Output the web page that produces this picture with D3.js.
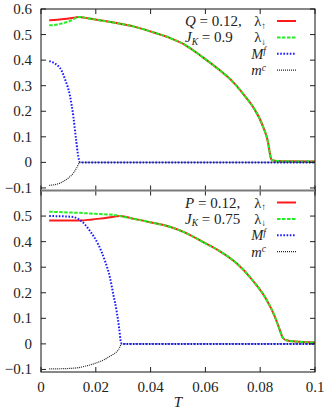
<!DOCTYPE html>
<html>
<head>
<meta charset="utf-8">
<script src="https://cdn.jsdelivr.net/npm/d3@7"></script>
<style>
  body { margin: 0; background: #fff; }
  text { font-family: "Liberation Serif", "DejaVu Serif", serif; fill: #222; }
</style>
</head>
<body>
<div id="chart"></div>
<script>
// ticks
const xTicks = [0, 0.02, 0.04, 0.06, 0.08, 0.1];
const xTickLabels = ["0", "0.02", "0.04", "0.06", "0.08", "0.1"];
const yTicksTop = [-0.1, 0, 0.1, 0.2, 0.3, 0.4, 0.5, 0.6];
const yTicksBottom = [-0.1, 0, 0.1, 0.2, 0.3, 0.4, 0.5];

// upper panel: Q = 0.12, J_K = 0.9
const qUpT = [0.003, 0.006, 0.0094, 0.012, 0.0136];
const qUp = [0.556, 0.558, 0.562, 0.566, 0.569];
const qDownT = [0.003, 0.006, 0.008, 0.0106, 0.012, 0.0136];
const qDown = [0.536, 0.539, 0.545, 0.553, 0.561, 0.569];
// both lambdas coincide above the first transition
const qHighT = [0.0175, 0.0215, 0.0275, 0.0337, 0.040, 0.047, 0.0525, 0.0592, 0.0653, 0.069, 0.0713, 0.0745, 0.0774, 0.081, 0.0829, 0.0835, 0.0841, 0.0853, 0.09, 0.1];
const qHigh = [0.563, 0.556, 0.545, 0.532, 0.512, 0.487, 0.460, 0.410, 0.360, 0.326, 0.300, 0.258, 0.217, 0.141, 0.076, 0.037, 0.011, 0.006, 0.004, 0.003];
const qMfT = [0.003, 0.0069, 0.0088, 0.0106, 0.0118, 0.0128, 0.0136, 0.0142, 0.1];
const qMf = [0.396, 0.370, 0.324, 0.259, 0.180, 0.089, 0.024, 0, 0];
const qMcT = [0.003, 0.0069, 0.010, 0.0118, 0.013, 0.0142, 0.1];
const qMc = [-0.090, -0.081, -0.061, -0.042, -0.022, 0, 0];

// lower panel: P = 0.12, J_K = 0.75
const pUpT = [0.003, 0.008, 0.0142, 0.018, 0.0215, 0.025, 0.0276];
const pUp = [0.483, 0.483, 0.483, 0.486, 0.490, 0.495, 0.499];
const pDownT = [0.003, 0.008, 0.013, 0.018, 0.023, 0.0276];
const pDown = [0.517, 0.515, 0.513, 0.510, 0.507, 0.503];
const pHighT = [0.0288, 0.034, 0.0398, 0.047, 0.052, 0.0592, 0.0653, 0.0714, 0.0775, 0.0823, 0.0853, 0.0871, 0.0883, 0.0896, 0.092, 0.0944, 0.1];
const pHigh = [0.500, 0.489, 0.476, 0.458, 0.438, 0.398, 0.362, 0.315, 0.245, 0.173, 0.108, 0.056, 0.023, 0.014, 0.010, 0.008, 0.005];
const pMfT = [0.003, 0.008, 0.0118, 0.0148, 0.0179, 0.0209, 0.0234, 0.0252, 0.0264, 0.0276, 0.0285, 0.0291, 0.0295, 0.1];
const pMf = [0.500, 0.499, 0.496, 0.480, 0.441, 0.389, 0.323, 0.258, 0.193, 0.128, 0.063, 0.010, 0, 0];
const pMcT = [0.003, 0.008, 0.013, 0.017, 0.0203, 0.023, 0.0252, 0.0283, 0.0295, 0.1];
const pMc = [-0.098, -0.097, -0.094, -0.085, -0.074, -0.062, -0.048, -0.022, 0, 0];

const W = 332, H = 415;
const left = 41, right = 315;

const svg = d3.select("#chart")
  .append("svg")
  .attr("width", W)
  .attr("height", H);

const x = d3.scaleLinear().domain([0, 0.1]).range([left, right]);

const zip = (ts, vs) => ts.map((t, i) => [t, vs[i]]);

// line styles, in gnuplot drawing order
const styles = [
  { color: "#ff1a1a", width: 2, dash: null },
  { color: "#22ee22", width: 2, dash: "3.5,1.5" },
  { color: "#1a1aff", width: 2, dash: "1.6,1.6" },
  { color: "#222", width: 1.2, dash: "1,1" }
];

// writes rich text: parts are [string, kind] where kind is "", "i", "sub", "isub", "isup"
function richText(g, xp, yp, parts, anchor, size) {
  const t = g.append("text")
    .attr("x", xp)
    .attr("y", yp)
    .attr("text-anchor", anchor)
    .style("font-size", size + "px");
  let shift = 0;
  parts.forEach(([s, kind]) => {
    let target = 0;
    if (kind.includes("sub")) target = 2.5;
    if (kind.includes("sup")) target = -4.5;
    const ts = t.append("tspan")
      .attr("dy", target - shift)
      .text(s);
    if (kind.startsWith("i")) ts.style("font-style", "italic");
    if (target !== 0) ts.style("font-size", "9.5px");
    shift = target;
  });
  return t;
}

function panel(top, bottom, series, yTicks, params, showX) {
  const y = d3.scaleLinear().domain([-0.11, 0.6]).range([bottom, top]);
  const g = svg.append("g");

  const line = d3.line()
    .x(d => x(d[0]))
    .y(d => y(d[1]))
    .curve(d3.curveMonotoneX);

  series.forEach((s, i) => {
    const st = styles[i];
    g.append("path")
      .datum(s)
      .attr("d", line)
      .attr("fill", "none")
      .attr("stroke", st.color)
      .attr("stroke-width", st.width)
      .attr("stroke-dasharray", st.dash);
  });

  // inward ticks on all four sides
  const tl = 5;
  g.selectAll(".ytl").data(yTicks).enter().append("line")
    .attr("x1", left).attr("x2", left + tl)
    .attr("y1", d => y(d)).attr("y2", d => y(d))
    .attr("stroke", "#222");
  g.selectAll(".ytr").data(yTicks).enter().append("line")
    .attr("x1", right).attr("x2", right - tl)
    .attr("y1", d => y(d)).attr("y2", d => y(d))
    .attr("stroke", "#222");
  g.selectAll(".xtb").data(xTicks).enter().append("line")
    .attr("x1", d => x(d)).attr("x2", d => x(d))
    .attr("y1", bottom).attr("y2", bottom - tl)
    .attr("stroke", "#222");
  g.selectAll(".xtt").data(xTicks).enter().append("line")
    .attr("x1", d => x(d)).attr("x2", d => x(d))
    .attr("y1", top).attr("y2", top + tl)
    .attr("stroke", "#222");

  g.append("rect")
    .attr("x", left).attr("y", top)
    .attr("width", right - left).attr("height", bottom - top)
    .attr("fill", "none")
    .attr("stroke", "#111");

  g.selectAll(".ylab").data(yTicks).enter().append("text")
    .attr("x", 32)
    .attr("y", d => y(d) + 5)
    .attr("text-anchor", "end")
    .style("font-size", "15px")
    .text(d => d3.format("")(+d.toFixed(2)));

  if (showX) {
    g.selectAll(".xlab").data(xTicks).enter().append("text")
      .attr("x", d => x(d))
      .attr("y", bottom + 19.5)
      .attr("text-anchor", "middle")
      .style("font-size", "15px")
      .text((d, i) => xTickLabels[i]);
  }

  // legend
  const rowY = i => top + 12 + i * 16.4;
  const labels = [
    [["λ", ""], ["↑", "sub"]],
    [["λ", ""], ["↓", "sub"]],
    [["M", "i"], ["f", "isup"]],
    [["m", "i"], ["c", "isup"]]
  ];
  labels.forEach((parts, i) => {
    richText(g, 266, rowY(i) + 5, parts, "end", 14.5);
    const st = styles[i];
    g.append("line")
      .attr("x1", 277).attr("x2", 296)
      .attr("y1", rowY(i)).attr("y2", rowY(i))
      .attr("stroke", st.color)
      .attr("stroke-width", st.width)
      .attr("stroke-dasharray", st.dash);
  });
  richText(g, 185, rowY(0) + 5, params[0], "start", 15);
  richText(g, 185, rowY(1) + 5, params[1], "start", 15);
}

const topSeries = [
  zip(qUpT, qUp).concat(zip(qHighT, qHigh)),
  zip(qDownT, qDown).concat(zip(qHighT, qHigh)),
  zip(qMfT, qMf),
  zip(qMcT, qMc)
];
const bottomSeries = [
  zip(pUpT, pUp).concat(zip(pHighT, pHigh)),
  zip(pDownT, pDown).concat(zip(pHighT, pHigh)),
  zip(pMfT, pMf),
  zip(pMcT, pMc)
];

panel(9, 190.5, topSeries, yTicksTop,
  [[["Q", "i"], [" = 0.12,", ""]], [["J", "i"], ["K", "isub"], [" = 0.9", ""]]], false);
panel(190.5, 372, bottomSeries, yTicksBottom,
  [[["P", "i"], [" = 0.12,", ""]], [["J", "i"], ["K", "isub"], [" = 0.75", ""]]], true);

// shared border between the panels
svg.append("line")
  .attr("x1", left).attr("x2", right)
  .attr("y1", 190.5).attr("y2", 190.5)
  .attr("stroke", "#7a7a7a")
  .attr("stroke-width", 2);

svg.append("text")
  .attr("x", (left + right) / 2)
  .attr("y", 407)
  .attr("text-anchor", "middle")
  .style("font-size", "15px")
  .style("font-style", "italic")
  .text("T");
</script>
</body>
</html>
